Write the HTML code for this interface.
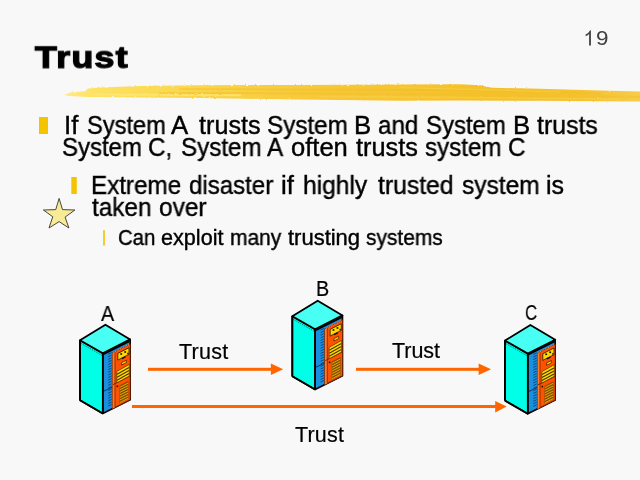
<!DOCTYPE html>
<html><head><meta charset="utf-8"><style>
html,body{margin:0;padding:0;}
body{width:640px;height:480px;background:#f8f8f8;position:relative;overflow:hidden;font-family:"Liberation Sans",sans-serif;}
svg{position:absolute;left:0;top:0;}
.t{position:absolute;white-space:pre;line-height:1;-webkit-text-stroke:0.4px currentColor;will-change:transform;}
.title{position:absolute;left:0;top:0;font:bold 32px "Liberation Sans",sans-serif;line-height:1;white-space:pre;-webkit-text-stroke:1.3px #000;transform-origin:0 0;will-change:transform;}
</style></head><body>
<svg width="640" height="480" viewBox="0 0 640 480">

<defs>
 <linearGradient id="bg1" x1="64" y1="0" x2="640" y2="0" gradientUnits="userSpaceOnUse">
  <stop offset="0" stop-color="#ffea90"/>
  <stop offset="0.05" stop-color="#fde262"/>
  <stop offset="0.25" stop-color="#f9d448"/>
  <stop offset="0.45" stop-color="#f7c836"/>
  <stop offset="0.75" stop-color="#f5c028"/>
  <stop offset="0.9" stop-color="#f5c230"/>
  <stop offset="1" stop-color="#f7cc48"/>
 </linearGradient>
 <filter id="rough" x="-5%" y="-50%" width="110%" height="200%">
  <feTurbulence type="fractalNoise" baseFrequency="0.35 0.9" numOctaves="2" seed="3" result="n"/>
  <feDisplacementMap in="SourceGraphic" in2="n" scale="2.2" xChannelSelector="R" yChannelSelector="G"/>
 </filter>
</defs>
<g filter="url(#rough)">
<path d="M64,95 L70,92.6 L85,91.2 L88,88.6 L100,87.4 L140,86 L200,85.2 L300,85 L400,84.6 L460,84.2 L480,85.2 L492,87.8 L540,88.8 L600,90.6 L640,91.6 L640,101.6 L600,101.2 L540,100.8 L460,100.4 L400,100.8 L300,99.6 L200,98 L140,97.4 L100,97.1 L87,96.9 L75,96.3 L68,95.9 Z" fill="url(#bg1)"/>
<g stroke-linecap="round" fill="none">
 <path d="M160,93 L300,93.5 L460,94.5 L640,97" stroke="#f2c030" stroke-width="2" opacity="0.6"/>
 <path d="M180,89 L300,89.5 L460,90 L600,93.5" stroke="#f0bc28" stroke-width="1.4" opacity="0.5"/>
 <path d="M95,94.5 L240,95.3" stroke="#ffe878" stroke-width="2" opacity="0.7"/>
 <path d="M320,96.5 L460,97.5 L620,99" stroke="#f8d050" stroke-width="1.4" opacity="0.6"/>
 <path d="M400,87.5 L560,92" stroke="#f8d24c" stroke-width="1.2" opacity="0.6"/>
</g>
</g>


<rect x="39" y="117" width="9" height="17" fill="#f5c400"/>
<rect x="71.3" y="177" width="5.5" height="17" fill="#f5c400"/>
<rect x="103" y="230.3" width="2" height="15.3" fill="#f5cc30"/>
<polygon points="59.1,198.4 62.5,209.6 74.9,210 65.1,217.1 68.9,228 59.1,221.6 49,228 52.75,216.75 43.4,210 55.75,209.6" fill="#f8eb95" stroke="#333" stroke-width="0.9" stroke-linejoin="miter"/>


<g id="comp">
 <polygon points="80,340.3 102.8,353.3 102.8,413.5 80,400.3" fill="#00ffe6" stroke="#000" stroke-width="1.6" stroke-linejoin="round"/>
 <line x1="81" y1="343.4" x2="102" y2="355.3" stroke="#066" stroke-width="0.8" stroke-dasharray="1.5 1"/>
 <polygon points="102.8,353.3 130.2,339.4 130.2,399.7 102.8,413.5" fill="#1890e0" stroke="#000" stroke-width="1.6" stroke-linejoin="round"/>
 <g stroke="#0c3c78" stroke-width="0.9">
  <line x1="108.3" y1="354.1" x2="111.6" y2="352.5"/>
  <line x1="108.3" y1="356.7" x2="111.6" y2="355.1"/>
  <line x1="108.3" y1="359.3" x2="111.6" y2="357.7"/>
  <line x1="108.3" y1="361.9" x2="111.6" y2="360.3"/>
  <line x1="108.3" y1="364.5" x2="111.6" y2="362.9"/>
  <line x1="108.3" y1="367.1" x2="111.6" y2="365.5"/>
  <line x1="108.3" y1="369.7" x2="111.6" y2="368.1"/>
  <line x1="108.3" y1="372.3" x2="111.6" y2="370.7"/>
  <line x1="108.3" y1="374.9" x2="111.6" y2="373.3"/>
  <line x1="108.3" y1="377.5" x2="111.6" y2="375.9"/>
  <line x1="108.3" y1="380.1" x2="111.6" y2="378.5"/>
  <line x1="108.3" y1="382.7" x2="111.6" y2="381.1"/>
  <line x1="108.3" y1="385.3" x2="111.6" y2="383.7"/>
  <line x1="108.3" y1="387.9" x2="111.6" y2="386.3"/>
  <line x1="108.3" y1="390.5" x2="111.6" y2="388.9"/>
  <line x1="108.3" y1="393.1" x2="111.6" y2="391.5"/>
  <line x1="108.3" y1="395.7" x2="111.6" y2="394.1"/>
  <line x1="108.3" y1="398.3" x2="111.6" y2="396.7"/>
  <line x1="108.3" y1="400.9" x2="111.6" y2="399.3"/>
  <line x1="108.3" y1="403.5" x2="111.6" y2="401.9"/>
  <line x1="108.3" y1="406.1" x2="111.6" y2="404.5"/>
 </g>
 <line x1="103.5" y1="391.3" x2="112.5" y2="387" stroke="#0a2a50" stroke-width="0.9"/>
 <polygon points="112.4,352.9 130.2,343.9 130.2,399.7 112.4,408.7" fill="#ff5200" stroke="#6a2000" stroke-width="0.9"/>
 <polygon points="112.6,353 114.8,351.9 114.8,407.5 112.6,408.6" fill="#ff7a20"/>
 <line x1="115" y1="352" x2="115" y2="407.5" stroke="#7a2a00" stroke-width="0.8"/>
 <line x1="113" y1="384.6" x2="130" y2="376" stroke="#6a2000" stroke-width="0.9"/>
 <polygon points="117.8,353.4 129,347.7 129,354.4 117.8,360.1" fill="#ffd800" stroke="#3a2000" stroke-width="0.9"/>
 <g fill="#201000">
  <rect x="120.3" y="353.2" width="1.8" height="1.6"/><rect x="124.3" y="351.2" width="1.8" height="1.6"/><rect x="127.2" y="352.8" width="1.4" height="1.6"/>
  <rect x="121.6" y="357" width="4" height="1.5" transform="rotate(-27 123.6 357.7)"/>
 </g>
 <polygon points="121.6,362.6 126.4,360.2 126.4,362.6 121.6,365" fill="#ffd800" stroke="#5a2000" stroke-width="0.8"/>
 <polygon points="116.8,371.4 129.3,364.4 129.3,376 116.8,382.8" fill="#ffdc00" stroke="#5a3000" stroke-width="0.7"/>
 <g stroke="#4a3000" stroke-width="1.1">
  <line x1="117" y1="374.2" x2="129" y2="367.6"/><line x1="117" y1="377.2" x2="129" y2="370.6"/><line x1="117" y1="380.2" x2="129" y2="373.6"/>
 </g>
 <polygon points="119.4,385.6 128.4,381 128.4,398.8 119.4,403.4" fill="#8a4a00"/>
 <g stroke="#d8b000" stroke-width="1">
  <line x1="119.8" y1="387.3" x2="128" y2="383.1"/>
  <line x1="119.8" y1="389.9" x2="128" y2="385.7"/>
  <line x1="119.8" y1="392.4" x2="128" y2="388.2"/>
  <line x1="119.8" y1="394.9" x2="128" y2="390.8"/>
  <line x1="119.8" y1="397.5" x2="128" y2="393.3"/>
  <line x1="119.8" y1="400.1" x2="128" y2="395.9"/>
  <line x1="119.8" y1="402.6" x2="128" y2="398.4"/>
 </g>
 <rect x="116.5" y="385.5" width="1.6" height="1.6" fill="#201000"/>
 <polygon points="80,340.3 105.4,324.7 130.2,339.4 102.8,353.3" fill="#48fff4" stroke="#000" stroke-width="1.8" stroke-linejoin="round"/>
 <line x1="103.5" y1="354.3" x2="129.5" y2="341.2" stroke="#000" stroke-width="1.6"/>
 <line x1="113.5" y1="352.2" x2="129.6" y2="344.1" stroke="#f08a60" stroke-width="1.1" stroke-dasharray="1 0.8"/>
 <line x1="80" y1="340.3" x2="80" y2="400.3" stroke="#000" stroke-width="1.9"/>
 <line x1="102.8" y1="353.3" x2="102.8" y2="413.5" stroke="#000" stroke-width="1.8"/>
 <line x1="80" y1="400.3" x2="102.8" y2="413.5" stroke="#000" stroke-width="1.8"/>
</g>

<use href="#comp" transform="translate(212.3,-24)"/>
<use href="#comp" transform="translate(425,0.3)"/>

<g fill="#ff6600">
 <rect x="148" y="367.8" width="124" height="3"/>
 <polygon points="270.9,363.6 283.2,369.3 270.9,375.1"/>
 <rect x="356" y="367.8" width="124" height="3"/>
 <polygon points="478.6,363.6 491.1,369.3 478.6,375.1"/>
 <rect x="132" y="405" width="365" height="3"/>
 <polygon points="495.2,401 506.7,406.6 495.2,412.5"/>
</g>

<path d="M590.9,45.4 V30.2 H590.2 Q588.6,33.2 585.6,34.6 V36.3 Q588,35.3 589.1,34 V45.4 Z" fill="#404040"/>
</svg>
<div class="t" style="left:64.11px;top:112.9px;font:25px 'Liberation Sans';line-height:1;letter-spacing:0px;color:#000;transform:scaleX(1.030);transform-origin:0 0;">If</div>
<div class="t" style="left:87.45px;top:112.9px;font:25px 'Liberation Sans';line-height:1;letter-spacing:0px;color:#000;transform:scaleX(0.946);transform-origin:0 0;">System</div>
<div class="t" style="left:171.04px;top:112.9px;font:25px 'Liberation Sans';line-height:1;letter-spacing:0px;color:#000;transform:scaleX(1.030);transform-origin:0 0;">A</div>
<div class="t" style="left:199.2px;top:112.9px;font:25px 'Liberation Sans';line-height:1;letter-spacing:0px;color:#000;transform:scaleX(1.007);transform-origin:0 0;">trusts</div>
<div class="t" style="left:266.73px;top:112.9px;font:25px 'Liberation Sans';line-height:1;letter-spacing:0px;color:#000;transform:scaleX(0.970);transform-origin:0 0;">System</div>
<div class="t" style="left:354.45px;top:112.9px;font:25px 'Liberation Sans';line-height:1;letter-spacing:0px;color:#000;transform:scaleX(1.030);transform-origin:0 0;">B</div>
<div class="t" style="left:377.63px;top:112.9px;font:25px 'Liberation Sans';line-height:1;letter-spacing:0px;color:#000;transform:scaleX(0.967);transform-origin:0 0;">and</div>
<div class="t" style="left:426.24px;top:112.9px;font:25px 'Liberation Sans';line-height:1;letter-spacing:0px;color:#000;transform:scaleX(0.958);transform-origin:0 0;">System</div>
<div class="t" style="left:513.04px;top:112.9px;font:25px 'Liberation Sans';line-height:1;letter-spacing:0px;color:#000;transform:scaleX(1.030);transform-origin:0 0;">B</div>
<div class="t" style="left:537.0px;top:112.9px;font:25px 'Liberation Sans';line-height:1;letter-spacing:0px;color:#000;transform:scaleX(0.995);transform-origin:0 0;">trusts</div>
<div class="t" style="left:62.34px;top:134.6px;font:25px 'Liberation Sans';line-height:1;letter-spacing:0px;color:#000;transform:scaleX(0.959);transform-origin:0 0;">System</div>
<div class="t" style="left:148.46px;top:134.6px;font:25px 'Liberation Sans';line-height:1;letter-spacing:0px;color:#000;transform:scaleX(0.970);transform-origin:0 0;">C,</div>
<div class="t" style="left:180.63px;top:134.6px;font:25px 'Liberation Sans';line-height:1;letter-spacing:0px;color:#000;transform:scaleX(0.967);transform-origin:0 0;">System</div>
<div class="t" style="left:267.46px;top:134.6px;font:25px 'Liberation Sans';line-height:1;letter-spacing:0px;color:#000;transform:scaleX(0.970);transform-origin:0 0;">A</div>
<div class="t" style="left:290.68px;top:134.6px;font:25px 'Liberation Sans';line-height:1;letter-spacing:0px;color:#000;transform:scaleX(1.021);transform-origin:0 0;">often</div>
<div class="t" style="left:355.6px;top:134.6px;font:25px 'Liberation Sans';line-height:1;letter-spacing:0px;color:#000;transform:scaleX(1.013);transform-origin:0 0;">trusts</div>
<div class="t" style="left:424.73px;top:134.6px;font:25px 'Liberation Sans';line-height:1;letter-spacing:0px;color:#000;transform:scaleX(0.966);transform-origin:0 0;">system</div>
<div class="t" style="left:508.47px;top:134.6px;font:25px 'Liberation Sans';line-height:1;letter-spacing:0px;color:#000;transform:scaleX(0.970);transform-origin:0 0;">C</div>
<div class="t" style="left:90.86px;top:173.2px;font:25px 'Liberation Sans';line-height:1;letter-spacing:0px;color:#000;transform:scaleX(0.968);transform-origin:0 0;">Extreme</div>
<div class="t" style="left:188.84px;top:173.2px;font:25px 'Liberation Sans';line-height:1;letter-spacing:0px;color:#000;transform:scaleX(0.962);transform-origin:0 0;">disaster</div>
<div class="t" style="left:281.23px;top:173.2px;font:25px 'Liberation Sans';line-height:1;letter-spacing:0px;color:#000;transform:scaleX(1.030);transform-origin:0 0;">if</div>
<div class="t" style="left:302.83px;top:173.2px;font:25px 'Liberation Sans';line-height:1;letter-spacing:0px;color:#000;transform:scaleX(0.983);transform-origin:0 0;">highly</div>
<div class="t" style="left:377.7px;top:173.2px;font:25px 'Liberation Sans';line-height:1;letter-spacing:0px;color:#000;transform:scaleX(0.989);transform-origin:0 0;">trusted</div>
<div class="t" style="left:461.82px;top:173.2px;font:25px 'Liberation Sans';line-height:1;letter-spacing:0px;color:#000;transform:scaleX(0.981);transform-origin:0 0;">system</div>
<div class="t" style="left:546.11px;top:173.2px;font:25px 'Liberation Sans';line-height:1;letter-spacing:0px;color:#000;transform:scaleX(0.993);transform-origin:0 0;">is</div>
<div class="t" style="left:91.9px;top:194.6px;font:25px 'Liberation Sans';line-height:1;letter-spacing:0px;color:#000;transform:scaleX(0.973);transform-origin:0 0;">taken</div>
<div class="t" style="left:159.22px;top:194.6px;font:25px 'Liberation Sans';line-height:1;letter-spacing:0px;color:#000;transform:scaleX(0.977);transform-origin:0 0;">over</div>
<div class="t" style="left:118.45px;top:228.3px;font:21.5px 'Liberation Sans';line-height:1;letter-spacing:0px;color:#000;transform:scaleX(0.946);transform-origin:0 0;">Can</div>
<div class="t" style="left:161.0px;top:228.3px;font:21.5px 'Liberation Sans';line-height:1;letter-spacing:0px;color:#000;transform:scaleX(1.005);transform-origin:0 0;">exploit</div>
<div class="t" style="left:230.13px;top:228.3px;font:21.5px 'Liberation Sans';line-height:1;letter-spacing:0px;color:#000;transform:scaleX(0.975);transform-origin:0 0;">many</div>
<div class="t" style="left:288.4px;top:228.3px;font:21.5px 'Liberation Sans';line-height:1;letter-spacing:0px;color:#000;transform:scaleX(1.022);transform-origin:0 0;">trusting</div>
<div class="t" style="left:365.93px;top:228.3px;font:21.5px 'Liberation Sans';line-height:1;letter-spacing:0px;color:#000;transform:scaleX(0.974);transform-origin:0 0;">systems</div>
<div class="t" style="left:178.75px;top:341.5px;font:21.5px 'Liberation Sans';line-height:1;letter-spacing:0.25px;color:#000;-webkit-text-stroke:0.2px #000;">Trust</div>
<div class="t" style="left:391.8px;top:340.9px;font:21.5px 'Liberation Sans';line-height:1;letter-spacing:-0.05px;color:#000;-webkit-text-stroke:0.2px #000;">Trust</div>
<div class="t" style="left:295.0px;top:424.9px;font:21.5px 'Liberation Sans';line-height:1;letter-spacing:0.188px;color:#000;-webkit-text-stroke:0.2px #000;">Trust</div>
<div class="t" style="left:100.7px;top:303.6px;font:21.5px 'Liberation Sans';line-height:1;letter-spacing:0px;color:#000;-webkit-text-stroke:0.2px #000;transform:scaleX(0.914);transform-origin:0 0;">A</div>
<div class="t" style="left:316.26px;top:279.4px;font:21.5px 'Liberation Sans';line-height:1;letter-spacing:0px;color:#000;-webkit-text-stroke:0.2px #000;transform:scaleX(0.918);transform-origin:0 0;">B</div>
<div class="t" style="left:525.47px;top:303.4px;font:21.5px 'Liberation Sans';line-height:1;letter-spacing:0px;color:#000;-webkit-text-stroke:0.2px #000;transform:scaleX(0.782);transform-origin:0 0;">C</div>
<div class="t" style="left:595.53px;top:27.4px;font:21px 'Liberation Sans';line-height:1;letter-spacing:0px;color:#404040;-webkit-text-stroke:0;transform:scaleX(1.070);transform-origin:0 0;">9</div>
<div class="title" style="left:35px;top:41.5px;transform:scale(1.12,0.95);letter-spacing:1.1px">Trust</div>
</body></html>
